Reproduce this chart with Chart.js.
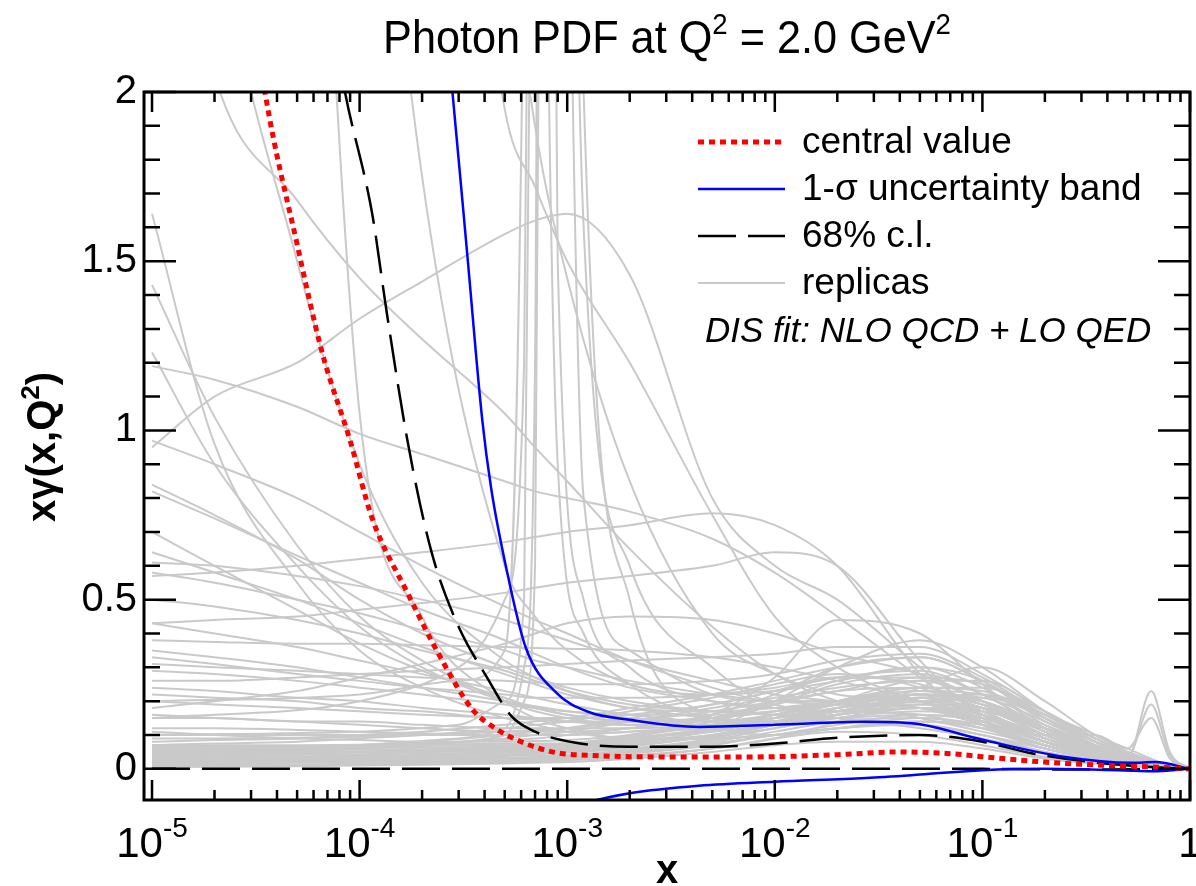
<!DOCTYPE html>
<html>
<head>
<meta charset="utf-8">
<script src="https://cdn.jsdelivr.net/npm/chart.js@4.4.1/dist/chart.umd.min.js"></script>
<style>
  html, body { margin: 0; padding: 0; background: #fff; }
</style>
</head>
<body>
<canvas id="pdfChart" width="1196" height="886"></canvas>
<script>
// x range of the plot (log axis) and y range
const xMin = 9.15e-6;
const xMax = 1;
const yMin = -0.092;
const yMax = 2;

// central value (red dotted)
const centralX = [3.0e-5, 3.5e-5, 5e-5, 6.6e-5, 9e-5, 1.15e-4, 1.7e-4, 2.4e-4, 3.5e-4, 4.5e-4, 6e-4, 9e-4, 1.3e-3, 2e-3, 5e-3, 1e-2, 2e-2, 4e-2, 7e-2, 0.1, 0.2, 0.4, 0.7, 1];
const centralY = [2.3, 2.0, 1.55, 1.23, 0.97, 0.74, 0.52, 0.34, 0.175, 0.12, 0.08, 0.047, 0.04, 0.036, 0.035, 0.036, 0.042, 0.05, 0.045, 0.036, 0.02, 0.01, 0.005, 0];

// 1-sigma band, upper and lower edge (blue)
const sigmaUpX = [2.4e-4, 2.8e-4, 3.3e-4, 3.9e-4, 4.3e-4, 5.1e-4, 6.3e-4, 8.9e-4, 1.27e-3, 2e-3, 4.3e-3, 1e-2, 2.75e-2, 4.8e-2, 0.1, 0.25, 0.52, 0.68, 1];
const sigmaUpY = [2.4, 2.0, 1.52, 1.03, 0.83, 0.59, 0.36, 0.224, 0.168, 0.145, 0.124, 0.13, 0.139, 0.133, 0.086, 0.035, 0.018, 0.02, 0];
const sigmaLoX = [1.2e-3, 2e-3, 4.3e-3, 1e-2, 2.75e-2, 5e-2, 0.1, 0.2, 0.45, 0.7, 1];
const sigmaLoY = [-0.1, -0.072, -0.05, -0.038, -0.027, -0.017, -0.004, 0, -0.004, -0.007, 0];

// 68% c.l., upper and lower edge (black dashed)
const clUpX = [7e-5, 8.5e-5, 1.15e-4, 1.35e-4, 1.7e-4, 2.2e-4, 2.9e-4, 4.2e-4, 5.4e-4, 7e-4, 1.1e-3, 2e-3, 5e-3, 1e-2, 2e-2, 5e-2, 0.1, 0.17, 0.36, 0.6, 1];
const clUpY = [2.3, 2.0, 1.64, 1.35, 0.97, 0.65, 0.44, 0.26, 0.155, 0.11, 0.077, 0.065, 0.065, 0.075, 0.092, 0.1, 0.08, 0.047, 0.018, 0.007, 0];
const clLoX = [1e-5, 1e-3, 1e-2, 0.1, 0.3, 1];
const clLoY = [0, 0, 0, 0, -0.002, 0];

// replicas (grey), all on the same x grid
const replicaX = [1e-5, 2e-5, 5e-5, 1e-4, 2e-4, 5e-4, 7e-4, 1e-3, 2e-3, 5e-3, 1e-2, 2e-2, 5e-2, 0.1, 0.2, 0.35, 0.5, 0.65, 0.8, 1];
const replicas = [
  [0.005,0.006,0.008,0.01,0.012,0.016,0.018,0.02,0.03,0.05,0.07,0.08,0.08,0.06,0.03,0.015,0.008,0.004,0.002,0],
  [0.01,0.011,0.012,0.014,0.016,0.02,0.022,0.025,0.035,0.06,0.09,0.11,0.1,0.07,0.035,0.018,0.01,0.005,0.002,0],
  [0.015,0.016,0.018,0.02,0.022,0.025,0.027,0.03,0.045,0.07,0.1,0.12,0.13,0.1,0.05,0.025,0.012,0.006,0.003,0],
  [0.02,0.021,0.022,0.024,0.026,0.03,0.032,0.035,0.05,0.08,0.11,0.14,0.15,0.12,0.06,0.03,0.015,0.008,0.003,0],
  [0.025,0.026,0.027,0.028,0.03,0.033,0.035,0.038,0.05,0.075,0.1,0.13,0.16,0.14,0.08,0.04,0.02,0.01,0.004,0],
  [0.03,0.031,0.032,0.033,0.035,0.038,0.04,0.042,0.055,0.085,0.12,0.15,0.17,0.15,0.09,0.045,0.025,0.012,0.005,0],
  [0.035,0.036,0.037,0.038,0.04,0.043,0.045,0.048,0.06,0.09,0.13,0.17,0.19,0.16,0.1,0.05,0.03,0.015,0.006,0],
  [0.04,0.041,0.042,0.043,0.045,0.048,0.05,0.052,0.065,0.1,0.14,0.18,0.2,0.18,0.11,0.06,0.03,0.015,0.006,0],
  [0.045,0.046,0.047,0.048,0.05,0.052,0.054,0.056,0.07,0.095,0.12,0.16,0.22,0.2,0.13,0.07,0.035,0.018,0.007,0],
  [0.05,0.05,0.051,0.052,0.054,0.056,0.058,0.06,0.075,0.1,0.13,0.17,0.21,0.19,0.12,0.065,0.035,0.02,0.008,0],
  [0.055,0.055,0.056,0.057,0.058,0.06,0.062,0.064,0.08,0.11,0.15,0.19,0.23,0.22,0.15,0.08,0.04,0.02,0.008,0],
  [0.06,0.06,0.061,0.062,0.063,0.065,0.066,0.068,0.085,0.12,0.16,0.2,0.24,0.24,0.17,0.09,0.045,0.025,0.01,0],
  [0.065,0.065,0.066,0.067,0.068,0.07,0.071,0.072,0.09,0.115,0.14,0.17,0.2,0.21,0.16,0.1,0.05,0.025,0.01,0],
  [0.07,0.07,0.07,0.071,0.072,0.074,0.075,0.076,0.09,0.11,0.13,0.15,0.18,0.17,0.12,0.07,0.04,0.02,0.008,0],
  [1.19,1.15,1.07,0.99,0.93,0.85,0.82,0.8,0.76,0.68,0.58,0.45,0.27,0.14,0.07,0.035,0.018,0.009,0.004,0],
  [0.38,0.375,0.37,0.37,0.365,0.36,0.357,0.355,0.35,0.33,0.3,0.26,0.2,0.13,0.07,0.035,0.018,0.009,0.004,0],
  [0.57,0.58,0.6,0.62,0.64,0.67,0.685,0.7,0.72,0.755,0.72,0.6,0.28,0.13,0.06,0.03,0.015,0.008,0.003,0],
  [0.43,0.44,0.45,0.47,0.49,0.52,0.535,0.55,0.57,0.6,0.64,0.6,0.32,0.15,0.07,0.035,0.018,0.009,0.004,0],
  [0.97,0.9,0.8,0.7,0.6,0.48,0.44,0.4,0.32,0.24,0.19,0.15,0.12,0.09,0.05,0.025,0.012,0.006,0.002,0],
  [0.84,0.75,0.62,0.5,0.4,0.3,0.27,0.24,0.2,0.17,0.16,0.15,0.13,0.1,0.06,0.03,0.015,0.007,0.003,0],
  [0.64,0.58,0.5,0.43,0.36,0.28,0.25,0.22,0.18,0.15,0.14,0.14,0.13,0.1,0.06,0.03,0.015,0.007,0.003,0],
  [0.58,0.55,0.5,0.46,0.41,0.35,0.32,0.3,0.26,0.22,0.2,0.19,0.18,0.14,0.08,0.04,0.02,0.01,0.004,0],
  [0.43,0.4,0.36,0.32,0.28,0.23,0.21,0.19,0.16,0.14,0.14,0.15,0.16,0.14,0.08,0.04,0.02,0.01,0.004,0],
  [0.35,0.33,0.3,0.27,0.24,0.2,0.185,0.17,0.15,0.14,0.15,0.17,0.2,0.18,0.1,0.05,0.025,0.012,0.005,0],
  [0.29,0.28,0.26,0.24,0.22,0.19,0.18,0.17,0.16,0.16,0.17,0.19,0.22,0.2,0.12,0.06,0.03,0.015,0.006,0],
  [0.24,0.23,0.21,0.2,0.18,0.16,0.15,0.14,0.13,0.13,0.14,0.16,0.19,0.18,0.12,0.06,0.03,0.015,0.006,0],
  [0.2,0.19,0.18,0.17,0.16,0.15,0.145,0.14,0.14,0.15,0.17,0.2,0.24,0.23,0.15,0.08,0.04,0.02,0.008,0],
  [0.15,0.15,0.14,0.14,0.13,0.12,0.12,0.12,0.12,0.13,0.15,0.18,0.22,0.21,0.14,0.07,0.035,0.017,0.007,0],
  [0.12,0.12,0.115,0.11,0.105,0.1,0.1,0.1,0.11,0.13,0.16,0.2,0.26,0.26,0.17,0.09,0.045,0.02,0.008,0],
  [0.1,0.1,0.1,0.1,0.1,0.1,0.1,0.1,0.11,0.12,0.14,0.17,0.21,0.22,0.16,0.08,0.04,0.02,0.008,0],
  [0.09,0.09,0.092,0.095,0.1,0.11,0.115,0.12,0.14,0.17,0.2,0.23,0.27,0.25,0.16,0.08,0.04,0.02,0.008,0],
  [0.08,0.085,0.09,0.1,0.11,0.13,0.14,0.15,0.18,0.22,0.26,0.3,0.33,0.26,0.15,0.08,0.045,0.022,0.009,0],
  [0.26,0.26,0.27,0.28,0.29,0.3,0.305,0.31,0.32,0.33,0.34,0.36,0.36,0.28,0.17,0.09,0.05,0.025,0.01,0],
  [0.31,0.3,0.29,0.28,0.27,0.26,0.255,0.25,0.25,0.26,0.28,0.32,0.34,0.27,0.16,0.09,0.05,0.025,0.01,0],
  [0.82,0.74,0.63,0.55,0.47,0.38,0.34,0.3,0.24,0.2,0.18,0.17,0.16,0.12,0.07,0.035,0.018,0.009,0.004,0],
  [0.61,0.6,0.57,0.54,0.5,0.44,0.41,0.38,0.32,0.26,0.22,0.2,0.18,0.13,0.07,0.035,0.018,0.009,0.004,0],
  [0.5,0.48,0.44,0.4,0.35,0.29,0.26,0.23,0.19,0.17,0.16,0.17,0.18,0.14,0.08,0.04,0.02,0.01,0.004,0],
  [0.7,0.6,0.47,0.37,0.29,0.21,0.18,0.16,0.14,0.14,0.16,0.19,0.21,0.17,0.09,0.045,0.022,0.011,0.004,0],
  [0.18,0.2,0.23,0.27,0.31,0.37,0.4,0.43,0.45,0.44,0.4,0.34,0.28,0.2,0.11,0.055,0.027,0.013,0.005,0],
  [1.64,0.96,0.55,0.35,0.24,0.15,0.13,0.11,0.09,0.09,0.1,0.12,0.14,0.13,0.08,0.04,0.02,0.01,0.004,0],
  [1.43,1.04,0.66,0.45,0.32,0.2,0.17,0.15,0.13,0.13,0.14,0.16,0.18,0.16,0.1,0.05,0.025,0.012,0.005,0],
  [1.23,0.9,0.6,0.42,0.3,0.2,0.18,0.16,0.14,0.15,0.17,0.2,0.23,0.2,0.12,0.06,0.03,0.015,0.006,0],
  [3.0,2.05,1.68,1.45,1.27,1.05,0.95,0.85,0.65,0.42,0.28,0.2,0.15,0.11,0.07,0.035,0.018,0.009,0.004,0],
  [4.5,2.6,1.5,0.9,0.55,0.32,0.27,0.23,0.18,0.17,0.18,0.2,0.22,0.19,0.11,0.055,0.027,0.013,0.005,0],
  [9,7,4,1.05,0.45,0.2,0.15,0.12,0.09,0.09,0.1,0.12,0.14,0.12,0.07,0.035,0.018,0.009,0.004,0],
  [12,9,6,3.5,1.75,0.6,0.45,0.35,0.25,0.22,0.23,0.26,0.3,0.26,0.15,0.07,0.035,0.017,0.007,0],
  [12,10,8,6,4,1.95,1.72,1.5,1.2,0.75,0.45,0.3,0.2,0.14,0.08,0.04,0.02,0.01,0.004,0],
  [12,10,8,7,6,2.6,1.9,1.45,0.85,0.4,0.28,0.22,0.2,0.15,0.09,0.045,0.022,0.011,0.004,0],
  [0.95,1.1,1.2,1.33,1.44,1.58,1.62,1.64,1.46,0.8,0.6,0.5,0.3,0.16,0.08,0.04,0.02,0.01,0.004,0],
  [0.02,0.02,0.022,0.025,0.03,0.04,0.045,0.05,0.07,0.12,0.2,0.3,0.38,0.3,0.17,0.08,0.04,0.02,0.008,0],
  [0.03,0.03,0.03,0.035,0.04,0.05,0.055,0.06,0.09,0.16,0.27,0.44,0.4,0.25,0.12,0.06,0.03,0.015,0.006,0],
  [0.01,0.01,0.012,0.015,0.02,0.025,0.028,0.03,0.04,0.06,0.09,0.14,0.24,0.3,0.2,0.1,0.06,0.03,0.01,0],
  [0.06,0.06,0.065,0.07,0.075,0.085,0.09,0.1,0.12,0.16,0.22,0.3,0.33,0.26,0.14,0.08,0.04,0.02,0.008,0],
  [0.04,0.045,0.05,0.06,0.07,0.09,0.1,0.11,0.14,0.18,0.21,0.24,0.26,0.2,0.11,0.055,0.028,0.014,0.006,0],
  [0.11,0.1,0.09,0.085,0.08,0.08,0.082,0.085,0.1,0.14,0.19,0.25,0.28,0.22,0.12,0.06,0.03,0.015,0.006,0],
  [0.16,0.15,0.14,0.13,0.12,0.11,0.11,0.11,0.12,0.15,0.19,0.23,0.24,0.19,0.1,0.05,0.025,0.012,0.005,0],
  [0.22,0.21,0.2,0.18,0.17,0.15,0.15,0.15,0.16,0.19,0.23,0.27,0.29,0.22,0.12,0.06,0.03,0.015,0.006,0],
  [0.33,0.31,0.28,0.26,0.24,0.22,0.21,0.21,0.21,0.22,0.24,0.27,0.27,0.2,0.11,0.055,0.028,0.014,0.006,0],
  [0.013,0.015,0.02,0.025,0.035,0.05,0.06,0.07,0.1,0.15,0.2,0.26,0.3,0.24,0.13,0.065,0.032,0.016,0.006,0],
  [0.07,0.075,0.08,0.09,0.1,0.12,0.13,0.14,0.17,0.21,0.25,0.28,0.24,0.16,0.08,0.04,0.02,0.01,0.004,0],
  [0.05,0.055,0.06,0.07,0.08,0.1,0.11,0.12,0.15,0.19,0.23,0.27,0.25,0.17,0.09,0.045,0.022,0.011,0.004,0],
  [0.03,0.03,0.035,0.04,0.05,0.06,0.065,0.07,0.09,0.12,0.15,0.18,0.2,0.16,0.08,0.04,0.03,0.23,0.05,0],
  [0.04,0.04,0.045,0.05,0.055,0.065,0.07,0.075,0.095,0.13,0.16,0.19,0.21,0.17,0.09,0.05,0.035,0.19,0.04,0],
  [0.02,0.02,0.025,0.03,0.04,0.05,0.055,0.06,0.08,0.1,0.13,0.16,0.18,0.15,0.1,0.1,0.06,0.15,0.03,0]
];

// replicas with a narrow spike just below x = 1e-3, on a finer grid there
const spikeX = [1e-5, 1e-4, 3e-4, 5e-4, 6.2e-4, 7e-4, 7.8e-4, 9e-4, 1.2e-3, 2e-3, 5e-3, 1e-2, 2e-2, 5e-2, 0.1, 0.2, 0.35, 0.5, 0.65, 0.8, 1];
const spikeReplicas = [
  [0.1,0.11,0.13,0.2,0.5,4,6,1.5,0.5,0.3,0.2,0.18,0.2,0.22,0.18,0.1,0.05,0.025,0.012,0.005,0],
  [0.05,0.07,0.09,0.12,0.3,1.2,8,5,0.8,0.35,0.22,0.2,0.2,0.21,0.16,0.09,0.045,0.022,0.011,0.004,0],
  [0.2,0.22,0.26,0.35,2.5,7,3,0.9,0.4,0.25,0.15,0.14,0.16,0.18,0.15,0.08,0.04,0.02,0.01,0.004,0],
  [0.15,0.2,0.3,0.5,1.2,5,9,6,1.6,0.6,0.3,0.2,0.2,0.22,0.18,0.1,0.05,0.025,0.012,0.005,0],
  [0.02,0.04,0.08,0.1,0.2,0.6,5,8,2,0.5,0.15,0.1,0.12,0.15,0.13,0.08,0.04,0.02,0.01,0.004,0]
];

const legendLabels = ['central value', '1-\u03c3 uncertainty band', '68% c.l.', 'replicas'];
const fitNote = 'DIS fit: NLO QCD + LO QED';
const titleParts = [['Photon PDF at Q', false], ['2', true], [' = 2.0 GeV', false], ['2', true]];
const xTitle = 'x';
const yTitleParts = [['x\u03b3(x,Q', false], ['2', true], [')', false]];

const FONT = '"Liberation Sans", Arial, Helvetica, sans-serif';
const RED = '#ff0000', BLUE = '#0000ff', BLACK = '#000000', GREY = '#c9c9c9';

function curve(xs, ys, color, width, dash) {
  return {
    data: xs.map((x, i) => ({ x: x, y: ys[i] })),
    borderColor: color,
    borderWidth: width,
    borderDash: dash || [],
    pointRadius: 0,
    fill: false,
    clip: 0,
    cubicInterpolationMode: 'monotone'
  };
}

const datasets = [
  curve(centralX, centralY, RED, 5, [6, 5]),
  curve(sigmaUpX, sigmaUpY, BLUE, 2.5),
  curve(sigmaLoX, sigmaLoY, BLUE, 2.5),
  curve(clUpX, clUpY, BLACK, 2.5, [38, 12]),
  curve(clLoX, clLoY, BLACK, 2.5, [38, 12])
].concat(replicas.map(r => curve(replicaX, r, GREY, 2)))
 .concat(spikeReplicas.map(r => curve(spikeX, r, GREY, 2)));

// text with superscripts: parts = [[text, isSup], ...]
function drawSupText(ctx, parts, x, y, size, supSize, rise, weight, align) {
  const base = (weight ? weight + ' ' : '') + size + 'px ' + FONT;
  const sup = (weight ? weight + ' ' : '') + supSize + 'px ' + FONT;
  let total = 0;
  parts.forEach(p => { ctx.font = p[1] ? sup : base; total += ctx.measureText(p[0]).width; });
  let cx = align === 'center' ? x - total / 2 : x;
  ctx.textAlign = 'left';
  parts.forEach(p => {
    ctx.font = p[1] ? sup : base;
    ctx.fillText(p[0], cx, p[1] ? y - rise : y);
    cx += ctx.measureText(p[0]).width;
  });
}

// frame + inward ticks on all four sides
const frameTicks = {
  id: 'frameTicks',
  afterDatasetsDraw(chart) {
    const { ctx, chartArea: a, scales: { x, y } } = chart;
    ctx.save();
    ctx.strokeStyle = BLACK;
    ctx.lineWidth = 2.5;
    ctx.setLineDash([]);
    ctx.beginPath();
    x.ticks.forEach(t => {
      const v = t.value;
      if (v < x.min || v > x.max) return;
      const e = Math.floor(Math.log10(v) + 1e-9);
      const m = v / Math.pow(10, e);
      if (Math.abs(m - Math.round(m)) > 1e-6) return;
      const len = Math.round(m) === 1 ? 20 : 10;
      const px = x.getPixelForValue(v);
      ctx.moveTo(px, a.bottom); ctx.lineTo(px, a.bottom - len);
      ctx.moveTo(px, a.top); ctx.lineTo(px, a.top + len);
    });
    y.ticks.forEach(t => {
      const major = Math.round(t.value * 10) % 5 === 0;
      const len = major ? 32 : 16;
      const py = y.getPixelForValue(t.value);
      ctx.moveTo(a.left, py); ctx.lineTo(a.left + len, py);
      ctx.moveTo(a.right, py); ctx.lineTo(a.right - len, py);
    });
    ctx.stroke();
    ctx.lineWidth = 3;
    ctx.strokeRect(a.left, a.top, a.right - a.left, a.bottom - a.top);
    ctx.restore();
  }
};

// title, x tick labels, axis titles, legend and note
const decorations = {
  id: 'decorations',
  afterDraw(chart) {
    const { ctx, chartArea: a, scales: { x } } = chart;
    const ds = chart.data.datasets;
    ctx.save();
    ctx.fillStyle = BLACK;
    ctx.textBaseline = 'alphabetic';

    // title, slightly condensed
    ctx.save();
    ctx.translate((a.left + a.right) / 2, 53);
    ctx.scale(0.92, 1);
    drawSupText(ctx, titleParts, 0, 0, 47, 30, 19, '', 'center');
    ctx.restore();

    // x tick labels 10^n
    x.ticks.forEach(t => {
      const l = Math.log10(t.value);
      const e = Math.round(l);
      if (Math.abs(l - e) > 1e-6 || t.value < x.min) return;
      const px = x.getPixelForValue(t.value);
      if (e === 0) {
        ctx.font = '42px ' + FONT;
        ctx.textAlign = 'center';
        ctx.fillText('1', px, 857);
      } else {
        drawSupText(ctx, [['10', false], [String(e), true]], px, 857, 42, 28, 20, '', 'center');
      }
    });

    ctx.font = 'bold 40px ' + FONT;
    ctx.textAlign = 'center';
    ctx.fillText(xTitle, (a.left + a.right) / 2, 883);

    ctx.save();
    ctx.translate(55, 447);
    ctx.rotate(-Math.PI / 2);
    drawSupText(ctx, yTitleParts, 0, 0, 40, 26, 16, 'bold', 'center');
    ctx.restore();

    // legend rows: central, 1-sigma, 68% c.l., replicas
    const rows = [ds[0], ds[1], ds[3], ds[5]];
    const x0 = a.right - 492, x1 = a.right - 405, tx = a.right - 388;
    ctx.textAlign = 'left';
    ctx.font = '37px ' + FONT;
    rows.forEach((d, i) => {
      const ly = a.top + 50 + i * 47;
      ctx.beginPath();
      ctx.strokeStyle = d.borderColor;
      ctx.lineWidth = d.borderWidth;
      ctx.setLineDash(d.borderDash);
      ctx.moveTo(x0, ly);
      ctx.lineTo(x1, ly);
      ctx.stroke();
      ctx.fillStyle = BLACK;
      ctx.fillText(legendLabels[i], tx, ly + 11);
    });
    ctx.setLineDash([]);
    ctx.font = 'italic 35px ' + FONT;
    ctx.fillText(fitNote, a.right - 485, a.top + 250);
    ctx.restore();
  }
};

new Chart(document.getElementById('pdfChart').getContext('2d'), {
  type: 'line',
  data: { datasets: datasets },
  options: {
    responsive: false,
    animation: false,
    devicePixelRatio: 1,
    parsing: false,
    layout: { padding: { top: 92, right: 6, left: 0, bottom: 0 } },
    plugins: {
      legend: { display: false },
      tooltip: { enabled: false },
      title: { display: false }
    },
    scales: {
      x: {
        type: 'logarithmic',
        min: xMin,
        max: xMax,
        grid: { display: false, drawTicks: false },
        border: { display: false },
        ticks: { display: false, autoSkip: false, maxRotation: 0 },
        afterFit: (s) => { s.height = 86; s.paddingLeft = 0; s.paddingRight = 0; }
      },
      y: {
        type: 'linear',
        min: yMin,
        max: yMax,
        grid: { display: false, drawTicks: false },
        border: { display: false },
        ticks: {
          stepSize: 0.1,
          includeBounds: false,
          autoSkip: false,
          padding: 7,
          color: BLACK,
          font: { family: FONT, size: 40 },
          callback: (v) => {
            const k = Math.round(v * 10);
            if (k % 5 !== 0) return '';
            return String(k / 10);
          }
        },
        afterFit: (s) => { s.width = 144; }
      }
    }
  },
  plugins: [frameTicks, decorations]
});
</script>
</body>
</html>
